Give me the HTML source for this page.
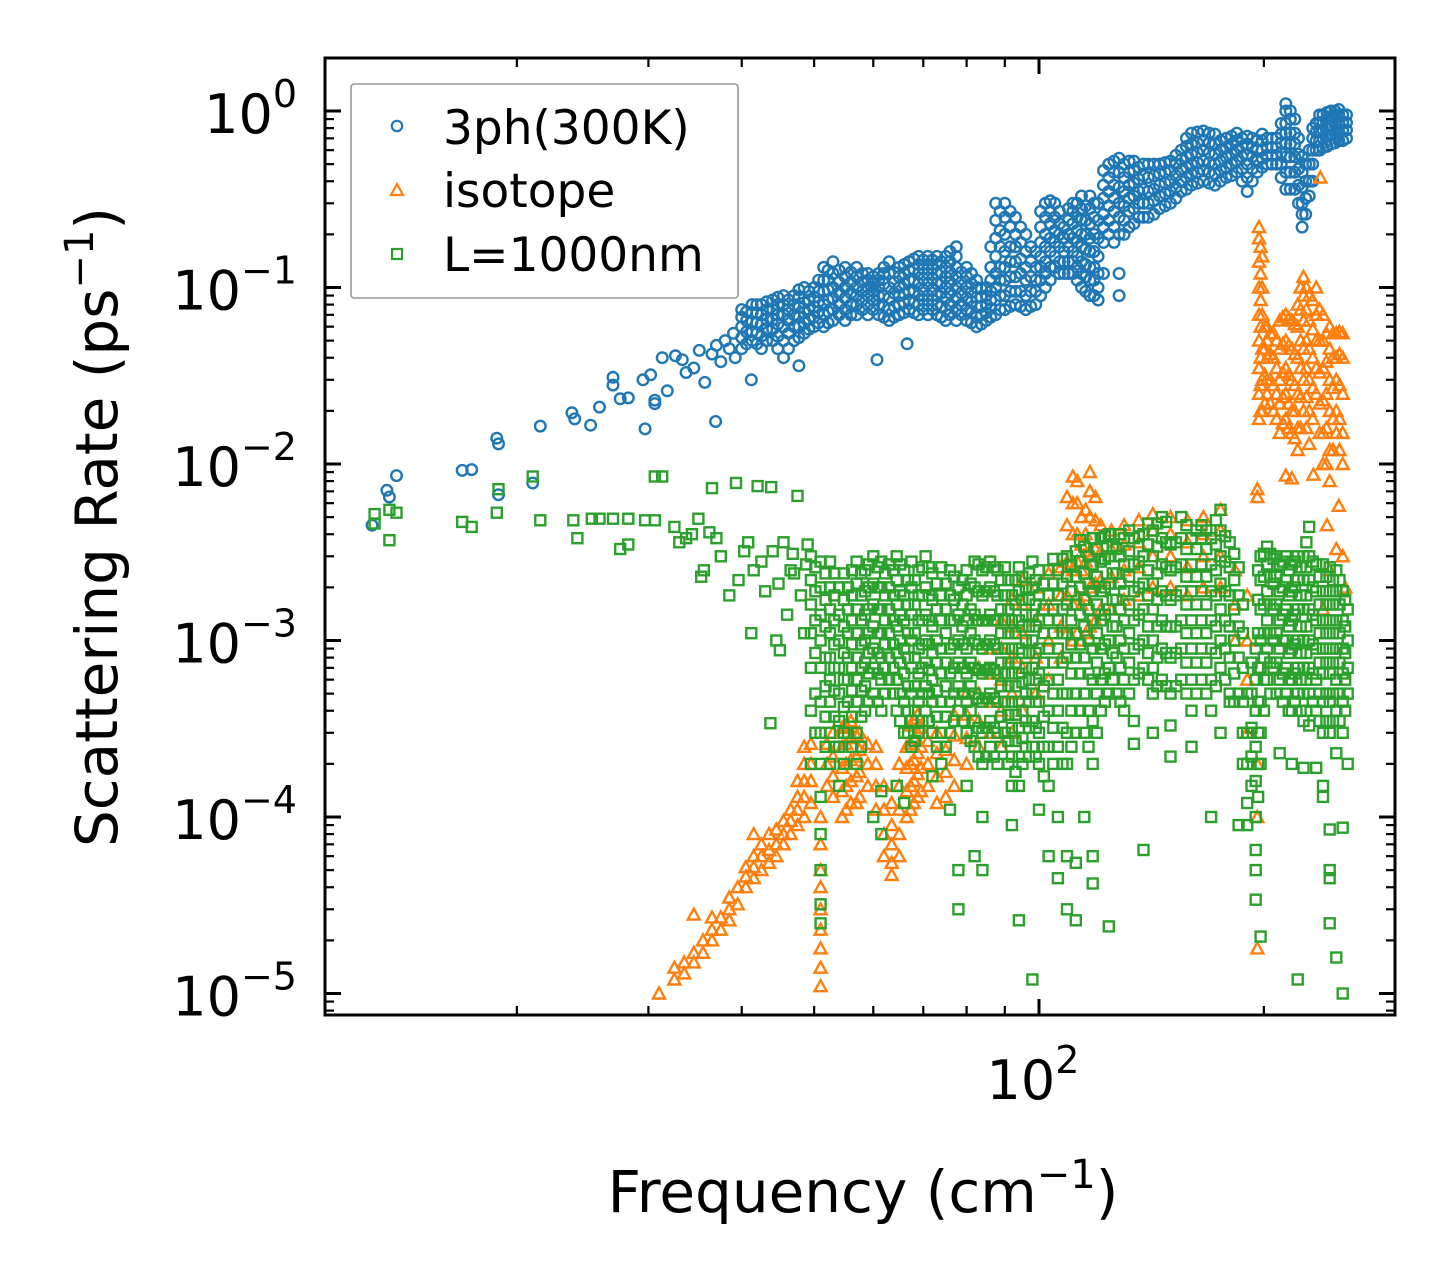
<!DOCTYPE html>
<html><head><meta charset="utf-8"><title>Scattering Rate vs Frequency</title>
<style>
html,body{margin:0;padding:0;background:#fff;}
svg{display:block;font-family:"DejaVu Sans","Liberation Sans",sans-serif;}
</style></head>
<body>
<svg id="chart" width="1455" height="1265" viewBox="0 0 1455 1265" xmlns="http://www.w3.org/2000/svg">
<rect x="0" y="0" width="1455" height="1265" fill="#fff"/>
<defs><clipPath id="plotclip"><rect x="325" y="58" width="1070" height="957"/></clipPath></defs>
<g id="series" clip-path="url(#plotclip)"></g>
<g id="axes"></g>
<g>
<rect x="351" y="84" width="387" height="214" rx="3" fill="#fff" fill-opacity="0.8" stroke="#999" stroke-width="1.6"/>
<g><circle cx="397" cy="126" r="5.2" fill="none" stroke="#1f77b4" stroke-width="2.2"/><text x="443" y="144" font-size="47">3ph(300K)</text></g>
<g><path d="M397,184 L403,195 L391,195 Z" fill="none" stroke="#ff7f0e" stroke-width="2.2"/><text x="443" y="207" font-size="47">isotope</text></g>
<g><rect x="392" y="249" width="10" height="10" fill="none" stroke="#2ca02c" stroke-width="2.2"/><text x="443" y="271" font-size="47">L=1000nm</text></g>
</g>
<text x="863" y="1212" font-size="58" text-anchor="middle">Frequency (cm<tspan font-size="40" dy="-24">−1</tspan><tspan dy="24">)</tspan></text>
<text transform="translate(117,527) rotate(-90)" font-size="58" text-anchor="middle">Scattering Rate (ps<tspan font-size="40" dy="-24">−1</tspan><tspan dy="24">)</tspan></text>
</svg>
<script>
// ---- data ----
const xTickExps = [2];
const yTickExps = [0, -1, -2, -3, -4, -5];
const xMinorTicks = [20, 30, 40, 50, 60, 70, 80, 90, 200, 300];

const blueSparse = [[12.8,0.0045],[13.4,0.0071],[13.5,0.0065],[13.8,0.0086],[16.9,0.0092],[17.4,0.0093],[18.8,0.014],[18.9,0.013],[18.9,0.0067],[21,0.0078],[21.5,0.0164],[23.7,0.0195],[23.9,0.018],[25.1,0.0166],[25.8,0.021],[26.9,0.028],[26.9,0.031],[27.5,0.0234],[28.2,0.0237],[29.5,0.03],[29.7,0.0158],[30.2,0.032],[30.6,0.023],[30.6,0.022],[31.3,0.040],[31.8,0.026],[32.6,0.041],[33.3,0.039],[33.7,0.033],[34.5,0.035],[35.1,0.044],[35.7,0.029],[36.5,0.042],[36.9,0.0174],[37,0.047],[37.5,0.038],[38,0.05],[38.5,0.045],[39,0.055],[39.2,0.04],[60.7,0.039],[66.6,0.048],[47.7,0.036],[41.2,0.03]];
const blueCols = [
[40,.045,.052,.06,.068,.075],[41.3,.05,.056,.064,.072,.08],[42.5,.045,.053,.062,.07,.08],[44,.05,.058,.066,.075,.085],
[45.5,.04,.05,.06,.07,.08,.09],[47,.05,.06,.07,.08,.09],[48.5,.055,.063,.072,.082,.1],[50,.06,.068,.078,.088,.1],
[51.5,.06,.07,.08,.095,.11,.13],[53,.065,.075,.087,.1,.12,.14],[55,.065,.075,.087,.1,.115,.13],[57,.07,.08,.09,.1,.115,.13],
[59,.07,.08,.09,.1,.11,.12],[61,.07,.08,.09,.1,.11,.12],[63,.065,.075,.087,.1,.12,.14],[65,.07,.08,.09,.1,.115,.13],
[67,.075,.085,.095,.11,.125,.14],[69,.07,.08,.09,.105,.12,.135,.15],[71,.07,.08,.09,.105,.12,.135,.15],[73,.07,.08,.09,.105,.12,.135,.15],
[75,.065,.075,.087,.1,.115,.13,.15],[77.5,.065,.075,.087,.1,.115,.13,.15,.17],[80,.065,.075,.087,.1,.115,.13],[82.5,.06,.068,.078,.088,.1,.11],
[85,.065,.072,.08,.09,.1],[87.5,.07,.085,.1,.12,.15,.19,.24,.3],[90,.075,.09,.11,.13,.16,.2,.25,.3],[93,.08,.095,.115,.14,.17,.2,.25],
[96,.075,.09,.11,.13,.16,.2],[99,.08,.095,.11,.13,.16],[102,.1,.12,.14,.17,.2,.25,.3],[105,.13,.15,.18,.21,.25,.3],
[108,.12,.14,.16,.19,.22],[111,.12,.14,.16,.19,.23,.27,.3],[114,.1,.12,.14,.17,.2,.24,.28,.33],[117,.09,.11,.13,.16,.19,.23,.28,.33],
[120,.085,.1,.12,.15,.19,.24,.3],[124,.2,.24,.29,.35,.42,.5],[128,.09,.12,.2,.25,.3,.37,.45,.54],[132,.22,.27,.32,.38,.45,.52],
[136,.25,.3,.35,.41,.48],[140,.25,.3,.35,.42,.5],[145,.28,.33,.38,.44,.5],[150,.3,.35,.4,.46,.52],
[155,.35,.4,.46,.53,.6],[160,.38,.44,.5,.57,.65,.75],[166,.4,.46,.52,.6,.68,.77],[172,.38,.44,.5,.57,.65,.74],
[178,.42,.48,.55,.62,.7],[184,.45,.52,.6,.68,.75],[190,.35,.42,.5,.57,.65,.72],[196,.45,.52,.6,.68],
[202,.5,.56,.62,.7],[208,.5,.56,.62,.7],[214,.36,.45,.55,.65,.75,.85,1.0,1.1],[220,.36,.45,.55,.65,.75,.9],
[225,.22,.26,.3,.37,.45,.55],[230,.33,.4,.5,.6],[235,.6,.68,.76,.85],[240,.62,.7,.78,.87,.95],
[246,.65,.73,.82,.92,1.0],[252,.68,.76,.85,.95,1.02],[258,.7,.78,.86,.95]];
const blueColsMid = [
[40.6,.048,.056,.065,.073],[41.9,.048,.055,.063,.072,.08],[43.2,.05,.058,.066,.075,.083],[44.7,.045,.053,.062,.07,.08,.088],[46.2,.045,.055,.065,.075,.085],[47.7,.052,.06,.068,.077,.088,.097],[49.2,.058,.066,.075,.085,.095],[50.7,.063,.073,.083,.095,.11],[52.2,.063,.073,.085,.097,.11,.125],[54,.07,.08,.093,.107,.125],[56,.07,.08,.093,.107,.122],[58,.075,.085,.095,.107,.12],[60,.075,.085,.095,.105,.115],[62,.068,.078,.09,.105,.12,.13],[64,.068,.078,.093,.107,.122],[66,.072,.082,.092,.105,.12,.135],[68,.072,.082,.095,.11,.127,.145],[70,.075,.085,.097,.112,.128,.143],[72,.075,.085,.097,.112,.128,.143],[74,.068,.078,.093,.107,.122,.14],[76,.07,.08,.093,.107,.122,.14,.16],[78.7,.07,.08,.093,.107,.122],[81.2,.063,.072,.083,.094,.105,.12],[83.7,.062,.07,.078,.088,.098],[86.2,.068,.076,.085,.095,.11,.13,.17],[88.7,.075,.09,.11,.13,.17,.21,.27],[91.5,.078,.095,.115,.14,.17,.22,.27],[94.5,.078,.095,.12,.145,.18,.22],[97.5,.078,.095,.115,.14,.17],[100.5,.09,.11,.13,.15,.18,.22,.27],[103.5,.11,.13,.16,.19,.23,.27,.31],[106.5,.12,.14,.17,.2,.23,.27],[109.5,.12,.14,.17,.2,.24,.28],[112.5,.11,.13,.15,.18,.21,.25,.3],[115.5,.095,.115,.135,.165,.2,.24,.29],[118.5,.09,.11,.13,.16,.2,.25,.3],[122,.12,.18,.22,.26,.32,.38,.46],[126,.18,.22,.27,.32,.38,.45,.52],[130,.2,.24,.29,.35,.42,.5],[134,.23,.28,.33,.39,.46,.52],[138,.25,.3,.36,.43,.5],[142.5,.26,.31,.36,.43,.5],[147.5,.29,.34,.39,.45,.51],[152.5,.32,.37,.43,.5,.56],[157.5,.36,.42,.48,.55,.63,.7],[163,.39,.45,.51,.58,.66,.76],[169,.39,.45,.51,.58,.66,.75],[175,.4,.46,.52,.6,.68],[181,.43,.5,.57,.65,.72],[187,.4,.47,.55,.63,.7],[193,.4,.47,.55,.62,.7],[199,.48,.54,.6,.68,.74],[205,.5,.56,.62,.7],[211,.42,.5,.58,.66,.74,.85],[217,.36,.45,.55,.65,.75,.9,1.0],[222.5,.3,.38,.47,.57,.7],[227.5,.26,.32,.4,.5],[232.5,.4,.5,.6,.7,.8],[237.5,.6,.68,.77,.86,.95],[243,.63,.72,.8,.9,.98],[249,.66,.75,.84,.93,1.0],[255,.68,.77,.86,.95]];

const orangeCols = [
[31,1.0e-5],[32.5,1.2e-5,1.4e-5],[33.5,1.3e-5,1.5e-5],[34.5,1.5e-5,1.7e-5,2.8e-5],[35.5,1.7e-5,2.0e-5],[36.5,2.0e-5,2.3e-5,2.7e-5],
[37.5,2.3e-5,2.7e-5],[38.5,2.6e-5,3.0e-5,3.5e-5],[39.5,3.2e-5,4.0e-5],[40.5,4.0e-5,4.6e-5,5.2e-5],[41.5,4.5e-5,5.2e-5,6e-5,8e-5],
[42.5,5e-5,6e-5,7e-5],[43.5,5.5e-5,6.5e-5,8e-5],[44.5,6e-5,7e-5,8.5e-5],[45.5,7e-5,8e-5,9.5e-5],[46.5,8e-5,9.5e-5,1.1e-4],
[47.5,9e-5,1.1e-4,1.3e-4,1.6e-4],[48.5,1e-4,1.3e-4,1.6e-4,2e-4,2.5e-4],[49.5,1.2e-4,1.6e-4,2e-4,2.6e-4],
[51,1.1e-5,1.4e-5,1.8e-5,2.3e-5,3e-5,4e-5,5e-5,7e-5,1e-4],[52,1.5e-4,2e-4,2.6e-4],[53,1.3e-4,1.7e-4,2.2e-4,3e-4],
[54.5,1.0e-4,1.4e-4,1.9e-4,2.5e-4,3.2e-4],[56,1.2e-4,1.6e-4,2.1e-4,2.8e-4,3.5e-4],[57.5,1.3e-4,1.8e-4,2.4e-4,3e-4],
[59,1.5e-4,2e-4,2.6e-4],[60.5,1.1e-4,1.5e-4,2e-4,2.5e-4],[62,6e-5,8e-5,1.1e-4,1.5e-4],[63.5,4.7e-5,5.5e-5,7e-5,9e-5,1.2e-4],
[65,6e-5,8e-5,1.1e-4,1.5e-4,2e-4],[66.5,1e-4,1.4e-4,1.9e-4,2.5e-4],[68,1.2e-4,1.6e-4,2.1e-4,2.8e-4,3.6e-4],
[69.5,1.4e-4,1.9e-4,2.5e-4,3.2e-4],[71,1.5e-4,2e-4,2.7e-4],[73,1.2e-4,1.7e-4,2.3e-4,3e-4],[75,1.3e-4,1.8e-4,2.4e-4],
[77,1.5e-4,2.1e-4,2.9e-4,3.8e-4],[80,2e-4,2.8e-4,3.8e-4,5e-4],[83,2.5e-4,3.5e-4,5e-4,7e-4],[86,3e-4,4.5e-4,6.5e-4,9e-4],
[89,2.5e-4,4e-4,6e-4,9e-4,1.3e-3],[92,3e-4,5e-4,8e-4,1.2e-3,1.7e-3],[95,4e-4,7e-4,1.1e-3,1.6e-3,2.2e-3],[99,5e-4,8e-4,1.3e-3,2e-3],
[103,6e-4,1e-3,1.6e-3,2.4e-3],[107,8e-4,1.2e-3,1.8e-3,2.6e-3],[111,1e-3,1.6e-3,2.5e-3,4e-3,6e-3,8.5e-3],[114,1e-3,1.6e-3,2.5e-3,3.5e-3,5e-3],
[117,1.2e-3,2e-3,3.2e-3,5e-3,7e-3,9e-3],[121,1.5e-3,2.2e-3,3.2e-3,4.5e-3],[125,1.5e-3,2.3e-3,3.3e-3,4.2e-3],[130,1.7e-3,2.5e-3,3.5e-3,4.5e-3],
[136,1.8e-3,2.6e-3,3.6e-3,4.8e-3],[142,2e-3,3e-3,4.2e-3,5.2e-3],[150,2e-3,3e-3,4e-3,5e-3],[158,1.8e-3,2.6e-3,3.6e-3,4.8e-3],
[166,2e-3,3e-3,4e-3,5e-3],[175,2e-3,3e-3,4.2e-3,5.5e-3],[183,1e-3,1.6e-3,2.5e-3],[190,3e-4,6e-4,1e-3,1.8e-3],
[196,1.8e-5,1e-4,2e-4,6.5e-3,7.2e-3],[197,.018,.025,.035,.05,.07,.1,.14,.19,.22],[199,.02,.03,.045,.07,.1,.15],
[202,.025,.03,.04,.05,.06],[206,.02,.028,.04,.055],[210,.015,.022,.03,.045,.065],[214,.0086,.018,.025,.035,.05,.07],
[218,.0083,.015,.02,.03,.045,.065],[222,.012,.016,.025,.04,.06,.08],[226,.02,.03,.045,.065,.09,.115],[230,.013,.02,.03,.045,.065,.09],
[233,.0087],[235,.025,.035,.05,.07,.1],[238,.42],[240,1.5e-3,.01,.015,.023,.035,.05,.07],[243,.0045],[245,2.5e-3,.008,.012,.02,.03,.045,.06],
[250,.0033,.015,.02,.03,.04,.055],[252,.0058],[255,3e-3,.01,.015,.025,.04,.055],[257,2e-3]];
const orangeColsMid = [
[198,.02,.028,.04,.06,.085,.12,.17],[200.5,.022,.032,.045,.06],[204,.022,.03,.042,.055],[208,.018,.025,.035,.05],[212,.017,.024,.033,.048,.068],[216,.016,.022,.032,.047,.067],[220,.014,.02,.028,.042,.062],[224,.016,.024,.035,.05,.075,.1],[228,.016,.024,.035,.05,.075,.1],[232.5,.018,.027,.04,.058,.085],[237.5,.015,.022,.033,.05,.075],[242.5,.01,.016,.025,.038,.055],[247.5,.012,.018,.027,.04,.055],[252.5,.012,.018,.028,.042,.056],
[109,1.1e-3,1.8e-3,2.8e-3,4.5e-3,6.5e-3],[112.5,1.1e-3,1.8e-3,2.8e-3,4e-3,6e-3,8e-3],[115.5,1.1e-3,1.8e-3,2.8e-3,4e-3,5.5e-3],[119,1.3e-3,2.1e-3,3.3e-3,4.8e-3,6.5e-3],[67.3,1.1e-4,1.5e-4,2e-4,2.6e-4,3.3e-4],[68.8,1.3e-4,1.75e-4,2.3e-4,3e-4,3.8e-4],[55.2,1.1e-4,1.5e-4,2e-4,2.6e-4,3.3e-4],[57,1.2e-4,1.7e-4,2.2e-4,2.9e-4]];

const greenSparse = [[12.9,0.0052],[12.9,0.0046],[13.5,0.0037],[13.8,0.0053],[13.5,0.0055],[16.9,0.0047],[17.4,0.0044],[18.8,0.0053],[18.9,0.0072],[21,0.0085],[21.5,0.0048],[23.8,0.0048],[24.1,0.0038],[25.2,0.0049],[25.8,0.0049],[26.9,0.0049],[27.5,0.0033],[28.2,0.0035],[28.2,0.0049],[29.7,0.0048],[30.6,0.0085],[30.6,0.0048],[31.3,0.0085],[32.5,0.0044],[33,0.0036],[33.7,0.0038],[34.3,0.004],[35,0.0049],[35.3,0.0023],[35.6,0.0025],[36.2,0.0041],[36.5,0.0073],[37,0.0038],[37.5,0.003],[38.5,0.0018],[39.3,0.0078],[39.6,0.0022],[40.3,0.0032],[40.8,0.0036],[41.2,0.0011],[42,0.0075],[42.5,0.0028],[43,0.0019],[43.8,0.0074],[44,0.0032],[44.5,0.001],[45,0.00088],[45.5,0.0036],[46,0.0014],[46.5,0.0025],[47,0.0024],[47.5,0.0066],[48,0.0018],[48.5,0.0011],[49,0.0035],[43.7,0.00034],[41.5,0.0025],[44.8,0.0021],[46.8,0.0031],[48.8,0.0027]];
const greenCols = [
[49.5,2e-4,4e-4,7e-4,1.1e-3,1.6e-3,2.2e-3,3e-3],[51,2.5e-5,3.2e-5,5e-5,8e-5,1.3e-4,2e-4,3e-4,4.5e-4,7e-4,1e-3,1.4e-3,2e-3,2.8e-3],
[52.5,2e-4,3e-4,4.5e-4,6e-4,8e-4,1.1e-3,1.5e-3,2e-3,2.8e-3],[54,1.5e-4,2.5e-4,3.5e-4,5e-4,7e-4,1e-3,1.4e-3,2e-3],
[55.5,3e-4,4.5e-4,6e-4,8e-4,1.1e-3,1.5e-3,2e-3],[57,2e-4,3e-4,4.5e-4,6e-4,8e-4,1.1e-3,1.5e-3,2.1e-3,2.8e-3],
[58.5,4e-4,5.5e-4,7.5e-4,1e-3,1.4e-3,1.9e-3,2.5e-3],[60,1e-4,5e-4,7e-4,9e-4,1.2e-3,1.6e-3,2.1e-3,3e-3],
[61.5,8e-5,1.4e-4,4e-4,6e-4,8e-4,1.1e-3,1.5e-3,2e-3,2.8e-3],[63,6e-4,8e-4,1.1e-3,1.5e-3,2e-3,2.7e-3],
[64.5,1.5e-4,4e-4,6e-4,8.5e-4,1.2e-3,1.6e-3,2.2e-3,3e-3],[66,1.2e-4,3e-4,4.5e-4,6.5e-4,9e-4,1.3e-3,1.8e-3,2.5e-3],
[67.5,2.5e-4,3.5e-4,5e-4,7e-4,1e-3,1.4e-3,2e-3,2.8e-3],[69,3e-4,4.5e-4,6.5e-4,9e-4,1.3e-3,1.8e-3,2.5e-3],
[70.5,4e-4,5.5e-4,7.5e-4,1e-3,1.4e-3,2e-3,3e-3],[72,1.7e-4,3e-4,4.5e-4,6e-4,8.5e-4,1.2e-3,1.7e-3,2.4e-3],
[74,2e-4,3e-4,4.5e-4,6.5e-4,9e-4,1.3e-3,1.8e-3,2.6e-3],[76,1.1e-4,3e-4,4.5e-4,6.5e-4,9e-4,1.3e-3,1.8e-3,2.5e-3],
[78,3e-5,5e-5,4e-4,5.5e-4,7.5e-4,1e-3,1.4e-3,2e-3],[80,1.5e-4,3e-4,4.5e-4,6.5e-4,9e-4,1.3e-3,1.8e-3,2.5e-3],
[82,6e-5,2.5e-4,3.5e-4,5e-4,7e-4,1e-3,1.4e-3,2e-3,2.8e-3],[84,5e-5,1e-4,2e-4,3e-4,4.5e-4,6.5e-4,9e-4,1.3e-3,1.8e-3,2.5e-3],
[86,2.5e-4,3.5e-4,5e-4,7e-4,1e-3,1.4e-3,2e-3,2.8e-3],[88,2e-4,3e-4,4.5e-4,6.5e-4,9e-4,1.3e-3,1.8e-3,2.5e-3],
[90,3e-4,4.5e-4,6.5e-4,9e-4,1.3e-3,1.8e-3,2.6e-3],[92,9e-5,1.5e-4,2.2e-4,3.2e-4,4.5e-4,6.5e-4,9e-4,1.3e-3,1.8e-3],
[94,2.6e-5,1.5e-4,2.2e-4,3.2e-4,4.5e-4,6.5e-4,9e-4,1.3e-3,1.9e-3,2.6e-3],[96,2.5e-4,3.5e-4,5e-4,7e-4,1e-3,1.4e-3,2e-3],
[98,1.2e-5,2.5e-4,3.5e-4,5e-4,7e-4,1e-3,1.4e-3,2e-3,2.8e-3],[100,1.1e-4,2e-4,3e-4,4.5e-4,6.5e-4,9e-4,1.3e-3,1.8e-3,2.5e-3],
[103,6e-5,1.5e-4,2.5e-4,4e-4,6e-4,9e-4,1.3e-3,1.8e-3,2.5e-3],[106,4.5e-5,1e-4,2.5e-4,4e-4,6e-4,9e-4,1.3e-3,1.8e-3,2.5e-3],
[109,3e-5,6e-5,2e-4,3e-4,5e-4,8e-4,1.1e-3,1.6e-3,2.3e-3,3e-3],[112,2.6e-5,5.5e-5,3e-4,5e-4,8e-4,1.1e-3,1.6e-3,2.3e-3,3.2e-3],
[115,1e-4,3e-4,5e-4,8e-4,1.2e-3,1.7e-3,2.4e-3,3.4e-3],[118,4.2e-5,6e-5,2e-4,3.5e-4,6e-4,9e-4,1.3e-3,1.9e-3,2.7e-3,3.8e-3],
[121,4e-4,6e-4,9e-4,1.3e-3,1.9e-3,2.8e-3,3.8e-3],[124,2.4e-5,5e-4,7e-4,1e-3,1.5e-3,2.1e-3,3e-3,4e-3],
[127,5e-4,8e-4,1.2e-3,1.7e-3,2.4e-3,3.3e-3],[130,4e-4,6e-4,9e-4,1.3e-3,1.9e-3,2.7e-3,3.8e-3],
[134,2.6e-4,3.5e-4,6e-4,9e-4,1.3e-3,1.9e-3,2.7e-3,3.8e-3],[138,6.5e-5,7e-4,1e-3,1.5e-3,2.1e-3,3e-3,4e-3],
[142,3e-4,5e-4,7e-4,1e-3,1.5e-3,2.1e-3,3e-3,4.2e-3],[146,6e-4,9e-4,1.3e-3,1.9e-3,2.7e-3,3.8e-3,5e-3],
[150,2.2e-4,3.3e-4,5e-4,8e-4,1.2e-3,1.7e-3,2.5e-3,3.5e-3],[155,6e-4,9e-4,1.3e-3,1.9e-3,2.7e-3,3.8e-3,5e-3],
[160,2.5e-4,4e-4,6e-4,9e-4,1.3e-3,1.9e-3,2.7e-3,3.8e-3],[165,6e-4,9e-4,1.3e-3,1.9e-3,2.7e-3,3.8e-3,4.5e-3],
[170,1e-4,4e-4,6e-4,9e-4,1.3e-3,1.9e-3,2.7e-3,3.8e-3],[175,3e-4,7e-4,1e-3,1.5e-3,2.1e-3,3e-3,4.2e-3,5.5e-3],
[180,4.5e-4,5e-4,8e-4,1.2e-3,1.8e-3,2.6e-3,3.6e-3],[185,9e-5,5e-4,8e-4,1.2e-3,1.8e-3,2.6e-3],
[190,9e-5,1.2e-4,2e-4,3e-4,5e-4],[195,3.4e-5,5e-5,6.5e-5,1e-4,1.6e-4,2.5e-4,4e-4,6e-4,9e-4],
[198,2.1e-5,2e-4,3e-4,4.5e-4,7e-4,1e-3,1.5e-3,2.2e-3,3e-3],[202,6e-4,9e-4,1.3e-3,1.9e-3,2.7e-3,3.4e-3],
[206,7e-4,1e-3,1.5e-3,2.1e-3,2.9e-3],[210,2.3e-4,6e-4,9e-4,1.3e-3,1.9e-3,2.7e-3],
[214,5e-4,7e-4,1e-3,1.5e-3,2.2e-3,3e-3],[218,2e-4,4e-4,6e-4,9e-4,1.3e-3,1.9e-3,2.7e-3],
[222,1.2e-5,5e-4,7e-4,1e-3,1.5e-3,2.2e-3,3e-3],[226,1.9e-4,3.5e-4,5e-4,7e-4,1e-3,1.5e-3,2.2e-3,3e-3],
[230,3.3e-4,5e-4,7e-4,1e-3,1.5e-3,2.2e-3,3e-3,4.4e-3],[235,1.9e-4,4e-4,6e-4,9e-4,1.3e-3,1.9e-3,2.7e-3],
[240,1.3e-4,1.5e-4,3e-4,4.5e-4,6.5e-4,9e-4,1.3e-3,1.9e-3,2.7e-3],[245,2.5e-5,4.5e-5,5e-5,8.5e-5,3e-4,4.5e-4,6.5e-4,9e-4,1.3e-3,1.9e-3,2.6e-3],
[250,1.6e-5,2.3e-4,4e-4,6e-4,9e-4,1.3e-3,1.9e-3,2.5e-3],[255,1e-5,8.7e-5,3e-4,4.5e-4,6.5e-4,9e-4,1.3e-3,1.9e-3],
[259,2e-4,5e-4,7e-4,1e-3,1.5e-3]];
const greenColsMid = [
[50.2,3e-4,5e-4,8.5e-4,1.3e-3,1.9e-3,2.6e-3],[51.8,2.5e-4,3.7e-4,5.5e-4,8e-4,1.2e-3,1.7e-3,2.4e-3],[53.2,2.5e-4,3.7e-4,5.2e-4,7e-4,9.5e-4,1.3e-3,1.8e-3,2.4e-3],[54.8,2e-4,3e-4,4.2e-4,6e-4,8.5e-4,1.2e-3,1.7e-3,2.4e-3],[56.2,2.5e-4,3.7e-4,5.2e-4,7e-4,9.5e-4,1.3e-3,1.8e-3,2.5e-3],[57.8,2.5e-4,3.7e-4,5.2e-4,7e-4,9.5e-4,1.3e-3,1.8e-3,2.4e-3],[59.2,4.5e-4,6.5e-4,8.5e-4,1.1e-3,1.5e-3,2e-3,2.7e-3],[60.8,4.5e-4,6.5e-4,8.5e-4,1.1e-3,1.5e-3,2e-3,2.6e-3],[62.2,5e-4,7e-4,9.5e-4,1.3e-3,1.8e-3,2.4e-3],[63.8,5e-4,7e-4,9.5e-4,1.3e-3,1.8e-3,2.5e-3],[65.2,3.5e-4,5e-4,7.5e-4,1e-3,1.4e-3,1.9e-3,2.7e-3],[66.8,3e-4,4e-4,5.5e-4,8e-4,1.1e-3,1.6e-3,2.2e-3],[68.2,2.7e-4,4e-4,5.5e-4,8e-4,1.1e-3,1.6e-3,2.2e-3],[69.8,3.5e-4,5e-4,7e-4,9.5e-4,1.3e-3,1.8e-3,2.6e-3],[71.2,3.5e-4,5e-4,6.8e-4,9.5e-4,1.3e-3,1.8e-3,2.6e-3],[73,2.5e-4,3.7e-4,5.2e-4,7.5e-4,1e-3,1.5e-3,2.1e-3],[75,2.5e-4,3.7e-4,5.5e-4,7.5e-4,1.1e-3,1.5e-3,2.1e-3],[77,3.5e-4,5e-4,7e-4,9.5e-4,1.3e-3,1.7e-3,2.3e-3],[79,3.5e-4,5e-4,7e-4,9.5e-4,1.2e-3,1.6e-3,2.2e-3],[81,2.7e-4,4e-4,5.5e-4,7.5e-4,1.1e-3,1.5e-3,2.1e-3],[83,2.2e-4,3.2e-4,4.7e-4,6.8e-4,9.5e-4,1.3e-3,1.9e-3,2.7e-3],[85,2.2e-4,3.2e-4,4.7e-4,6.8e-4,9.5e-4,1.3e-3,1.9e-3,2.6e-3],[87,2.2e-4,3.2e-4,4.7e-4,6.8e-4,9.5e-4,1.3e-3,1.9e-3,2.6e-3],[89,2.5e-4,3.7e-4,5.5e-4,7.5e-4,1.1e-3,1.5e-3,2.2e-3],[91,2e-4,2.7e-4,3.8e-4,5.5e-4,7.5e-4,1.1e-3,1.5e-3,2.2e-3],[93,1.8e-4,2.7e-4,3.8e-4,5.5e-4,7.5e-4,1.1e-3,1.6e-3,2.2e-3],[95,2e-4,2.8e-4,4e-4,5.8e-4,8.5e-4,1.2e-3,1.7e-3,2.3e-3],[97,2.2e-4,3.2e-4,4.5e-4,6e-4,8.5e-4,1.2e-3,1.7e-3,2.4e-3],[99,2.2e-4,3.2e-4,4.5e-4,6e-4,8.5e-4,1.2e-3,1.6e-3,2.2e-3],[101.5,1.7e-4,2.5e-4,3.7e-4,5.5e-4,7.5e-4,1.1e-3,1.5e-3,2.1e-3],[104.5,2e-4,3.2e-4,5e-4,7.5e-4,1.1e-3,1.5e-3,2.1e-3,2.9e-3],[107.5,2e-4,3.2e-4,5e-4,7.5e-4,1.1e-3,1.5e-3,2.1e-3,2.9e-3],[110.5,2.5e-4,4e-4,6.5e-4,9.5e-4,1.3e-3,1.9e-3,2.7e-3],[113.5,4e-4,6.5e-4,9.5e-4,1.4e-3,2e-3,2.8e-3,3.7e-3],[116.5,2.5e-4,4e-4,6.5e-4,1e-3,1.5e-3,2.1e-3,3e-3],[119.5,3e-4,5e-4,7.5e-4,1.1e-3,1.6e-3,2.3e-3,3.3e-3],[122.5,4.5e-4,6.5e-4,9.5e-4,1.4e-3,2e-3,2.9e-3,3.9e-3],[125.5,6e-4,8.5e-4,1.2e-3,1.7e-3,2.4e-3,3.4e-3],[128.5,4.5e-4,7e-4,1e-3,1.5e-3,2.1e-3,3e-3,4e-3],[132,5e-4,7.5e-4,1.1e-3,1.6e-3,2.3e-3,3.2e-3,4.2e-3],[136,6.5e-4,9.5e-4,1.4e-3,2e-3,2.8e-3,3.9e-3],[140,6e-4,8.5e-4,1.2e-3,1.8e-3,2.5e-3,3.5e-3,4.6e-3],[144,5.5e-4,8e-4,1.2e-3,1.7e-3,2.4e-3,3.4e-3,4.6e-3],[148,5.5e-4,8.5e-4,1.2e-3,1.8e-3,2.6e-3,3.6e-3,4.7e-3],[152.5,5.5e-4,8.5e-4,1.2e-3,1.8e-3,2.6e-3,3.6e-3],[157.5,5e-4,7.5e-4,1.1e-3,1.6e-3,2.3e-3,3.3e-3,4.5e-3],[162.5,5e-4,7.5e-4,1.1e-3,1.6e-3,2.3e-3,3.3e-3,4.2e-3],[167.5,5e-4,7.5e-4,1.1e-3,1.6e-3,2.3e-3,3.3e-3,4.2e-3],[172.5,5.5e-4,8.5e-4,1.2e-3,1.8e-3,2.5e-3,3.5e-3,4.8e-3],[177.5,6e-4,9e-4,1.3e-3,1.9e-3,2.8e-3,3.9e-3],[182.5,4.5e-4,6.5e-4,1e-3,1.5e-3,2.2e-3,3.1e-3],[187.5,2e-4,3e-4,4.5e-4,7e-4,1.1e-3,1.6e-3],[192.5,1.5e-4,2.2e-4,3.2e-4,5e-4,7.5e-4],[196.5,1.3e-4,2e-4,3e-4,4.5e-4,7e-4,1.1e-3,1.7e-3,2.5e-3],[200,4e-4,6e-4,8e-4,1.1e-3,1.6e-3,2.3e-3,3.1e-3],[204,5e-4,7.5e-4,1.1e-3,1.6e-3,2.3e-3,3.1e-3],[208,5e-4,7.5e-4,1.1e-3,1.6e-3,2.3e-3,3e-3],[212,4.5e-4,6.5e-4,1e-3,1.4e-3,2e-3,2.8e-3],[216,4e-4,6e-4,8.5e-4,1.2e-3,1.8e-3,2.5e-3],[220,4.5e-4,6.5e-4,9.5e-4,1.4e-3,2e-3,2.8e-3],[224,4e-4,6e-4,8.5e-4,1.2e-3,1.8e-3,2.6e-3],[228,4e-4,6e-4,8.5e-4,1.2e-3,1.8e-3,2.6e-3,3.6e-3],[232.5,4.5e-4,6.5e-4,9.5e-4,1.4e-3,2e-3,2.8e-3],[237.5,3.5e-4,5e-4,7.5e-4,1.1e-3,1.6e-3,2.3e-3],[242.5,3.5e-4,5e-4,7.5e-4,1.1e-3,1.6e-3,2.3e-3],[247.5,3.5e-4,5e-4,7.5e-4,1.1e-3,1.6e-3,2.2e-3],[252.5,3.5e-4,5e-4,7.5e-4,1.1e-3,1.6e-3,2.2e-3],[257,4e-4,6e-4,8.5e-4,1.2e-3,1.7e-3]];

// ---- axis functions ----
const X0 = 1039, XDEC = 747, Y0 = 111, YDEC = 176.5;
const PL = 325, PR = 1395, PT = 58, PB = 1015;
function xs(f){ return X0 + (Math.log10(f) - 2) * XDEC; }
function ys(r){ return Y0 - Math.log10(r) * YDEC; }

const NS = 'http://www.w3.org/2000/svg';
function mk(tag, attrs, parent){ const e = document.createElementNS(NS, tag); for (const k in attrs) e.setAttribute(k, attrs[k]); parent.appendChild(e); return e; }
const series = document.getElementById('series');
const axes = document.getElementById('axes');

function flatten(sparse, colSets){ const pts = sparse.map(p => [p[0], p[1]]); colSets.forEach(cols => cols.forEach(c => { for (let i = 1; i < c.length; i++) pts.push([c[0], c[i]]); })); return pts; }

const gB = mk('g', {}, series);


flatten(blueSparse, [blueCols, blueColsMid]).forEach(p => {
  const c = mk('circle', {cx: xs(p[0]).toFixed(1), cy: ys(p[1]).toFixed(1), r: 5.3, fill: 'none', stroke: '#1f77b4', 'stroke-width': 2.4}, gB);
  
  
});
const gO = mk('g', {}, series);


flatten([], [orangeCols, orangeColsMid]).forEach(p => {
  const x = xs(p[0]), y = ys(p[1]);
  const t = mk('path', {d: `M${x.toFixed(1)},${(y-6).toFixed(1)} L${(x+6).toFixed(1)},${(y+5).toFixed(1)} L${(x-6).toFixed(1)},${(y+5).toFixed(1)} Z`, fill: 'none', stroke: '#ff7f0e', 'stroke-width': 2.4}, gO);
  
  
});
const gG = mk('g', {}, series);


flatten(greenSparse, [greenCols, greenColsMid]).forEach(p => {
  const x = xs(p[0]), y = ys(p[1]);
  const s = mk('rect', {x: (x-5).toFixed(1), y: (y-5).toFixed(1), width: 10, height: 10, fill: 'none', stroke: '#2ca02c', 'stroke-width': 2.4}, gG);
  
  
});

// ---- axes ----
const frame = mk('rect', {x: PL, y: PT, width: PR-PL, height: PB-PT, fill: 'none', stroke: '#000', 'stroke-width': 3}, axes);


function tick(x1, y1, x2, y2, w){ const l = mk('line', {x1, y1, x2, y2, stroke: '#000', 'stroke-width': w}, axes);   }
xMinorTicks.forEach(f => { const x = xs(f); if (x < PL || x > PR) return; tick(x, PB, x, PB-9, 2.2); tick(x, PT, x, PT+9, 2.2); });
xTickExps.forEach(e => {
  const x = xs(Math.pow(10, e));
  tick(x, PB, x, PB-16, 3); tick(x, PT, x, PT+16, 3);
  const t = mk('text', {x: x - 6, y: 1099, 'font-size': 54, 'text-anchor': 'middle'}, axes);
  
  
  t.innerHTML = `10<tspan font-size="38" dy="-26">${e}</tspan>`;
});
yTickExps.forEach(e => {
  const y = ys(Math.pow(10, e));
  tick(PL, y, PL+16, y, 3); tick(PR, y, PR-16, y, 3);
  const t = mk('text', {x: 297, y: y + 22, 'font-size': 54, 'text-anchor': 'end'}, axes);
  
  
  t.innerHTML = `10<tspan font-size="38" dy="-26">${e < 0 ? '−' + (-e) : e}</tspan>`;
});
for (let e = -6; e <= 1; e++) {
  for (let m = 2; m <= 9; m++) {
    const y = ys(m * Math.pow(10, e));
    if (y < PT + 1 || y > PB - 1) continue;
    tick(PL, y, PL+9, y, 2.2); tick(PR, y, PR-9, y, 2.2);
  }
}
</script>
</body></html>
